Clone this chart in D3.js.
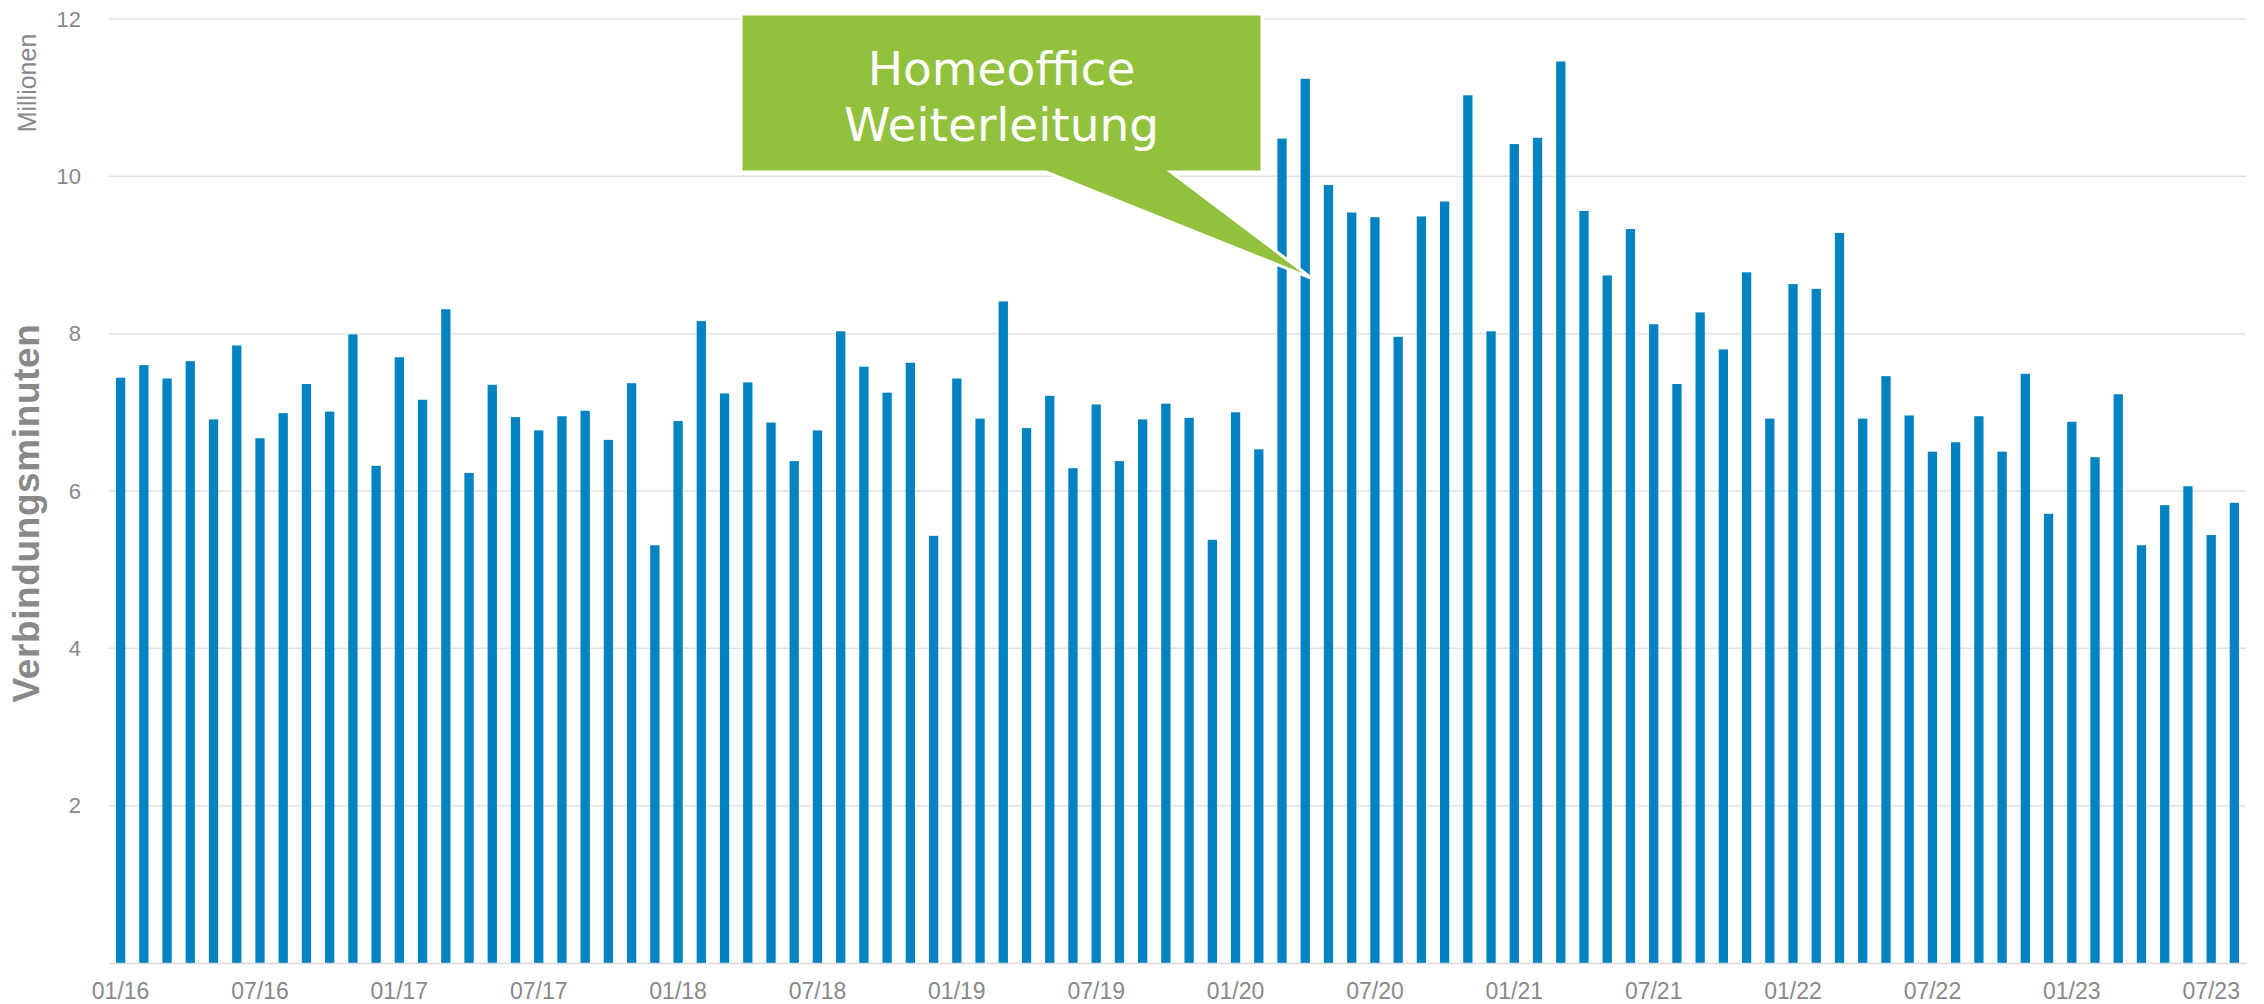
<!DOCTYPE html>
<html>
<head>
<meta charset="utf-8">
<script src="https://cdn.jsdelivr.net/npm/d3@7"></script>
<style>
    body { margin: 0; background: #fff; }
    svg { display: block; }
</style>
</head>
<body>
<div id="chart"></div>
<script>
// months 01/16 .. 08/23
const months = [
    "01/16","02/16","03/16","04/16","05/16","06/16","07/16","08/16","09/16","10/16","11/16","12/16",
    "01/17","02/17","03/17","04/17","05/17","06/17","07/17","08/17","09/17","10/17","11/17","12/17",
    "01/18","02/18","03/18","04/18","05/18","06/18","07/18","08/18","09/18","10/18","11/18","12/18",
    "01/19","02/19","03/19","04/19","05/19","06/19","07/19","08/19","09/19","10/19","11/19","12/19",
    "01/20","02/20","03/20","04/20","05/20","06/20","07/20","08/20","09/20","10/20","11/20","12/20",
    "01/21","02/21","03/21","04/21","05/21","06/21","07/21","08/21","09/21","10/21","11/21","12/21",
    "01/22","02/22","03/22","04/22","05/22","06/22","07/22","08/22","09/22","10/22","11/22","12/22",
    "01/23","02/23","03/23","04/23","05/23","06/23","07/23","08/23"
];

// Verbindungsminuten in Millionen
const minutes = [
    7.44, 7.60, 7.43, 7.65, 6.91, 7.85, 6.67, 6.99, 7.36, 7.01, 7.99, 6.32,
    7.70, 7.16, 8.31, 6.23, 7.35, 6.94, 6.77, 6.95, 7.02, 6.65, 7.37, 5.31,
    6.89, 8.16, 7.24, 7.38, 6.87, 6.38, 6.77, 8.03, 7.58, 7.25, 7.63, 5.43,
    7.43, 6.92, 8.41, 6.80, 7.21, 6.29, 7.10, 6.38, 6.91, 7.11, 6.93, 5.38,
    7.00, 6.53, 10.48, 11.24, 9.89, 9.54, 9.48, 7.96, 9.49, 9.68, 11.03, 8.03,
    10.41, 10.49, 11.46, 9.56, 8.74, 9.33, 8.12, 7.36, 8.27, 7.80, 8.78, 6.92,
    8.63, 8.57, 9.28, 6.92, 7.46, 6.96, 6.50, 6.62, 6.95, 6.50, 7.49, 5.71,
    6.88, 6.43, 7.23, 5.31, 5.82, 6.06, 5.44, 5.85
];

const xTickLabels = ["01/16","07/16","01/17","07/17","01/18","07/18","01/19","07/19",
    "01/20","07/20","01/21","07/21","01/22","07/22","01/23","07/23"];
const yTicks = [2, 4, 6, 8, 10, 12];

const calloutLines = ["Homeoffice", "Weiterleitung"];
const calloutMonth = "04/20";
const calloutValue = 8.7;

const width = 2264;
const height = 1004;
const margin = { top: 19, right: 18, bottom: 41, left: 109 };

const svg = d3.select("#chart")
    .append("svg")
    .attr("width", width)
    .attr("height", height);

const x = d3.scaleBand()
    .domain(months)
    .range([margin.left, width - margin.right])
    .paddingInner(0.6)
    .paddingOuter(0.3);

const y = d3.scaleLinear()
    .domain([0, 12])
    .range([height - margin.bottom, margin.top]);

const grey = "#898989";

// gridlines
svg.append("g")
    .selectAll("line")
    .data(yTicks)
    .enter()
    .append("line")
    .attr("x1", margin.left)
    .attr("x2", width - margin.right)
    .attr("y1", d => y(d))
    .attr("y2", d => y(d))
    .attr("stroke", "#e2e2e2")
    .attr("stroke-width", 1.5);

// y axis labels
const yAxis = svg.append("g")
    .attr("transform", `translate(${margin.left - 28},0)`)
    .call(d3.axisLeft(y).tickValues(yTicks).tickSize(0).tickPadding(0));
yAxis.select(".domain").remove();
yAxis.selectAll("text")
    .attr("fill", grey)
    .style("font-family", "'Liberation Sans', Arial, sans-serif")
    .style("font-size", "22px");

// bars
svg.append("g")
    .selectAll("rect")
    .data(minutes)
    .enter()
    .append("rect")
    .attr("x", (d, i) => x(months[i]))
    .attr("y", d => y(d))
    .attr("width", x.bandwidth())
    .attr("height", d => y(0) - y(d))
    .attr("fill", "#0083c0");

// x axis
const xAxis = svg.append("g")
    .attr("transform", `translate(0,${y(0)})`)
    .call(d3.axisBottom(x).tickValues(xTickLabels).tickSize(0).tickPadding(20));
xAxis.select(".domain")
    .attr("stroke", "#d9d9d9")
    .attr("stroke-width", 1.5);
xAxis.selectAll("text")
    .attr("fill", grey)
    .style("font-family", "'Liberation Sans', Arial, sans-serif")
    .style("font-size", "23px");

// axis titles
svg.append("text")
    .attr("transform", "translate(39,513) rotate(-90)")
    .attr("text-anchor", "middle")
    .attr("fill", grey)
    .style("font-family", "'Liberation Sans', Arial, sans-serif")
    .style("font-size", "37px")
    .style("font-weight", "bold")
    .style("letter-spacing", "0.6px")
    .text("Verbindungsminuten");

svg.append("text")
    .attr("transform", "translate(36,83) rotate(-90)")
    .attr("text-anchor", "middle")
    .attr("fill", grey)
    .style("font-family", "'Liberation Sans', Arial, sans-serif")
    .style("font-size", "25px")
    .text("Millionen");

// callout
const box = { x0: 741, x1: 1262, y0: 14, y1: 172 };
const tipX = x(calloutMonth) + x.bandwidth() / 2 + 7;
const tipY = y(calloutValue);
const wedgeL = 1046, wedgeR = 1171;

const path = d3.path();
path.moveTo(box.x0, box.y0);
path.lineTo(box.x1, box.y0);
path.lineTo(box.x1, box.y1);
path.lineTo(wedgeR, box.y1);
path.lineTo(tipX, tipY);
path.lineTo(wedgeL, box.y1);
path.lineTo(box.x0, box.y1);
path.closePath();

svg.append("path")
    .attr("d", path.toString())
    .attr("fill", "#92c13e")
    .attr("stroke", "#fff")
    .attr("stroke-width", 3)
    .attr("stroke-linejoin", "miter")
    .attr("stroke-miterlimit", 30);

svg.append("g")
    .selectAll("text")
    .data(calloutLines)
    .enter()
    .append("text")
    .attr("x", (box.x0 + box.x1) / 2)
    .attr("y", (d, i) => 85 + i * 56)
    .attr("text-anchor", "middle")
    .attr("fill", "#fff")
    .style("font-family", "'DejaVu Sans', Verdana, sans-serif")
    .style("font-size", "47px")
    .text(d => d);
</script>
</body>
</html>
